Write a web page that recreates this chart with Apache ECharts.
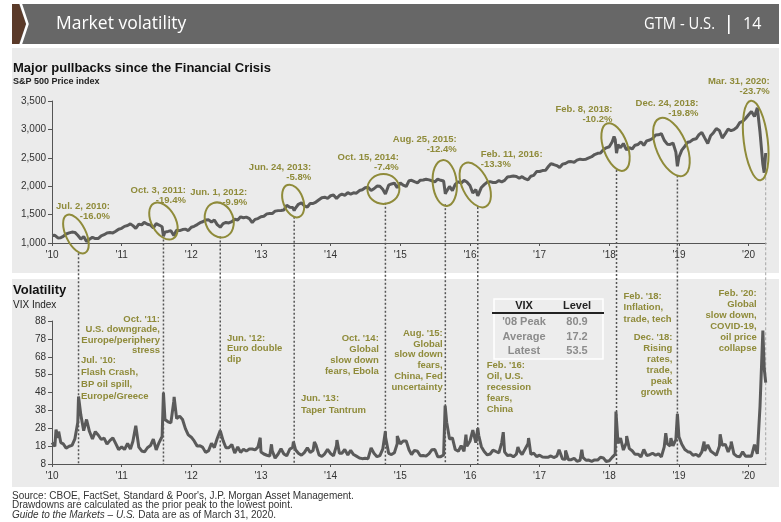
<!DOCTYPE html>
<html>
<head>
<meta charset="utf-8">
<title>Market volatility</title>
<script src="https://cdn.jsdelivr.net/npm/echarts@6/dist/echarts.min.js"></script>
<style>
  html, body { margin: 0; padding: 0; background: #ffffff; }
  #chart { width: 781px; height: 522px; }
</style>
</head>
<body>
<div id="chart"></div>
<script>
// ---- S&P 500 price index, sampled on the 1st and 16th of each month ----
const spx2010 = [1133,1136,1089,1094,1115,1159,1178,1192,1187,1136,1070,1114,1027,1065,1101,1079,1080,1125,1146,1176,1184,1178,1206,1242];
const spx2011 = [1258,1293,1307,1336,1306,1257,1332,1319,1363,1330,1314,1267,1340,1316,1287,1192,1204,1216,1131,1224,1218,1236,1244,1219];
const spx2012 = [1277,1294,1324,1358,1374,1404,1408,1370,1405,1324,1278,1342,1362,1353,1375,1418,1406,1461,1444,1455,1428,1359,1416,1430];
const spx2013 = [1462,1472,1513,1520,1518,1561,1570,1574,1582,1666,1631,1626,1614,1682,1706,1655,1633,1697,1695,1721,1762,1798,1806,1786];
const spx2014 = [1832,1845,1782,1838,1859,1841,1885,1862,1884,1877,1924,1937,1973,1981,1925,1955,2003,1998,1946,1862,2018,2039,2054,1972];
const spx2015 = [2058,2019,1995,2097,2104,2081,2059,2106,2108,2122,2111,2096,2077,2124,2104,2092,1914,1995,1923,2033,2079,2053,2102,2073];
const spx2016 = [2012,1880,1940,1865,1978,2027,2072,2080,2065,2066,2099,2077,2102,2162,2170,2178,2170,2139,2168,2133,2111,2176,2191,2258];
const spx2017 = [2258,2275,2279,2347,2396,2381,2363,2328,2388,2400,2430,2433,2423,2459,2476,2468,2476,2500,2519,2557,2579,2586,2642,2676];
const spx2018 = [2695,2777,2822,2732,2678,2752,2641,2677,2655,2722,2735,2780,2718,2798,2813,2840,2902,2905,2924,2809,2740,2736,2760,2600];
const spx2019 = [2510,2636,2704,2775,2784,2822,2834,2907,2946,2851,2752,2889,2942,3014,2980,2847,2926,3006,2977,2997,3038,3120,3141,3192];
const spx2020 = [3258,3317,3226,3380,2954,2386];
// prior peaks and pullback lows between the regular samples
const spxTurnDates  = ['2010-04-23','2010-07-02','2011-04-29','2011-08-08','2011-10-03','2012-04-02','2012-06-01','2013-05-21','2013-06-24','2014-09-18','2014-10-15','2015-05-21','2015-08-25','2015-11-03','2016-02-11','2018-01-26','2018-02-08','2018-09-20','2018-12-24','2020-02-19','2020-03-23','2020-03-31'];
const spxTurnValues = [1217.3,1022.6,1363.6,1119.5,1099.2,1419.0,1278.0,1669.2,1573.1,2011.4,1862.5,2130.8,1867.6,2109.8,1829.1,2872.9,2581.0,2930.8,2351.1,3386.2,2237.4,2584.6];

// ---- VIX index, same sampling ----
const vix2010 = [20.0,17.9,22.6,20.0,19.3,16.9,17.9,18.4,22.1,31.2,35.5,26.6,32.9,26.3,22.0,26.1,24.1,21.7,22.5,19.1,21.2,22.6,19.4,16.1];
const vix2011 = [17.6,16.1,19.5,16.4,20.7,29.4,17.4,15.3,14.8,17.1,18.3,21.9,15.9,20.0,23.4,32.9,31.6,31.0,43.0,33.4,34.8,32.9,27.8,24.3];
const vix2012 = [23.0,20.9,18.0,18.2,17.3,14.5,15.5,19.6,17.2,22.3,26.7,21.1,17.1,17.1,18.9,14.1,17.5,14.5,16.3,15.2,16.4,16.4,15.9,17.4];
const vix2013 = [14.7,13.6,12.9,12.5,15.4,11.3,13.6,16.5,13.6,12.6,16.3,17.2,16.0,14.0,12.9,14.4,17.0,14.5,15.5,18.7,13.1,12.2,13.7,16.2];
const vix2014 = [13.8,12.5,18.4,14.0,14.0,16.1,13.1,15.6,13.3,12.4,11.4,11.0,11.2,11.0,17.0,14.0,12.1,12.7,16.3,23.0,14.0,13.3,14.3,19.4];
const vix2015 = [19.2,20.9,20.9,15.8,13.3,15.6,15.1,12.6,12.7,12.4,13.8,16.0,16.1,12.1,12.1,13.0,31.4,22.0,22.6,16.1,15.1,18.2,15.1,17.9];
const vix2016 = [20.7,27.0,19.9,24.1,17.7,15.0,13.1,13.6,15.7,15.0,14.2,20.0,14.8,12.7,13.0,12.0,13.5,15.4,13.3,16.2,19.3,13.4,14.1,12.2];
const vix2017 = [12.9,11.9,11.8,11.8,12.5,11.6,12.4,15.0,10.8,10.7,10.4,10.4,11.2,9.5,10.1,11.7,10.1,10.2,9.5,10.3,10.2,11.8,11.4,9.4];
const vix2018 = [9.8,11.7,13.5,19.5,22.5,15.8,20.0,16.6,15.4,13.4,13.5,12.0,16.1,12.8,13.2,14.0,12.9,13.7,12.0,17.6,19.3,18.1,18.1,21.6];
const vix2019 = [23.2,19.0,16.1,14.9,14.6,12.9,13.4,12.2,14.8,15.3,18.7,15.3,14.1,12.9,17.9,18.5,19.0,14.7,18.6,13.7,12.3,12.1,14.9,12.3];
const vix2020 = [12.5,12.3,18.8,13.7,40.1,82.7];
const vixTurnDates  = ['2010-01-22','2010-02-05','2010-05-20','2011-08-08','2011-10-03','2012-12-28','2013-02-25','2013-06-20','2013-10-08','2014-02-03','2014-10-15','2014-12-16','2015-08-24','2015-12-11','2016-02-11','2016-06-24','2016-09-09','2016-11-04','2017-04-13','2017-05-17','2017-08-10','2018-02-05','2018-04-02','2018-10-24','2018-11-20','2018-12-24','2019-05-13','2019-08-05','2019-10-02','2020-03-23','2020-03-31'];
const vixTurnValues = [27.3,26.1,45.8,48.0,45.5,22.7,19.0,20.5,20.3,21.4,26.3,23.6,40.7,24.4,28.1,25.8,17.5,22.5,16.0,15.6,16.0,37.3,23.6,25.2,22.5,36.1,20.6,24.6,20.6,61.6,53.5];

// ---- axis ticks ----
const yearTicks = [2010,2011,2012,2013,2014,2015,2016,2017,2018,2019,2020];
const spxTicks = [1000,1500,2000,2500,3000,3500];
const vixTicks = [8,18,28,38,48,58,68,78,88];

// ---- pullbacks ----
const pullbackLabels = ['Jul. 2, 2010','Oct. 3, 2011','Jun. 1, 2012','Jun. 24, 2013','Oct. 15, 2014','Aug. 25, 2015','Feb. 11, 2016','Feb. 8, 2018','Dec. 24, 2018','Mar. 31, 2020'];
const drawdowns = [-16.0,-19.4,-9.9,-5.8,-7.4,-12.4,-13.3,-10.2,-19.8,-23.7];
const markerDates = ['2010-05-20','2011-08-08','2012-06-01','2013-06-24','2014-10-15','2015-08-25','2016-02-11','2018-02-08','2018-12-24','2020-03-31'];

// ---- VIX episode notes ----
const vixNotes = [
  "Jul. '10:\nFlash Crash,\nBP oil spill,\nEurope/Greece",
  "Oct. '11:\nU.S. downgrade,\nEurope/periphery\nstress",
  "Jun. '12:\nEuro double\ndip",
  "Jun. '13:\nTaper Tantrum",
  "Oct. '14:\nGlobal\nslow down\nfears, Ebola",
  "Aug. '15:\nGlobal\nslow down\nfears,\nChina, Fed\nuncertainty",
  "Feb. '16:\nOil, U.S.\nrecession\nfears,\nChina",
  "Feb. '18:\nInflation,\ntrade, tech",
  "Dec. '18:\nRising\nrates,\ntrade,\npeak\ngrowth",
  "Feb. '20:\nGlobal\nslow down,\nCOVID-19,\noil price\ncollapse"
];

// ---- VIX summary table ----
const vixTableRows = ["'08 Peak", 'Average', 'Latest'];
const vixTableLevels = [80.9, 17.2, 53.5];

// ---- layout of the annotations (pixels relative to each marker) ----
// ring: dx from marker, centre level on S&P axis, radii, rotation; label: dx, dy from ring centre
const ringLayout = [
  { dx: -2.6, level: 1158, rx: 10, ry: 21, rot: 0.45, lx: 31.4, ly: -28, align: 'right' },
  { dx: 0,    level: 1387, rx: 12, ry: 20, rot: 0.5,  lx: 22.5, ly: -31, align: 'right' },
  { dx: -1,   level: 1405, rx: 14, ry: 18, rot: 0.35, lx: 27,   ly: -28, align: 'right' },
  { dx: -1,   level: 1739, rx: 10, ry: 17, rot: 0.35, lx: 17,   ly: -34, align: 'right' },
  { dx: -2,   level: 1951, rx: 16, ry: 15, rot: 0,    lx: 13.4, ly: -32, align: 'right' },
  { dx: -0.6, level: 2056, rx: 12, ry: 23, rot: 0.1,  lx: 11.4, ly: -44, align: 'right' },
  { dx: -2.5, level: 2021, rx: 13, ry: 24, rot: 0.45, lx: 3,    ly: -31, align: 'left'  },
  { dx: -1,   level: 2690, rx: 12, ry: 25, rot: 0.35, lx: -4,   ly: -38, align: 'right' },
  { dx: -6,   level: 2690, rx: 15, ry: 31, rot: 0.4,  lx: 21,   ly: -44, align: 'right' },
  { dx: -10,  level: 2805, rx: 12, ry: 40, rot: 0.12, lx: 4,    ly: -59.5, align: 'right' }
];
// note: dx from marker, first line level on VIX axis, alignment, line height
const noteLayout = [
  { dx: 2.5,  level: 66.1,  align: 'left',  lh: 12 },
  { dx: -3.5, level: 89.0,  align: 'right', lh: 10.5 },
  { dx: 6.7,  level: 78.4,  align: 'left',  lh: 10.5 },
  { dx: 6.7,  level: 44.9,  align: 'left',  lh: 12 },
  { dx: -6.6, level: 78.4,  align: 'right', lh: 11 },
  { dx: -2.6, level: 81.2,  align: 'right', lh: 10.8 },
  { dx: 9,    level: 63.3,  align: 'left',  lh: 11 },
  { dx: 7,    level: 101.9, align: 'left',  lh: 11.5 },
  { dx: -5,   level: 78.9,  align: 'right', lh: 11 },
  { dx: -9,   level: 103.5, align: 'right', lh: 11 }
];

const FONT = "'Liberation Sans', Arial, sans-serif";
const HEAD = "'Open Sans', sans-serif";
const OLIVE = '#8f8b3a';
const LINE = '#5a5a5a';

// fractional year from an ISO date
function toYear(s) {
  const [y, m, d] = s.split('-').map(Number);
  const start = Date.UTC(y, 0, 1), end = Date.UTC(y + 1, 0, 1);
  return y + (Date.UTC(y, m - 1, d) - start) / (end - start);
}
function sampleDate(year, i) {
  const m = Math.floor(i / 2) + 1;
  return year + '-' + String(m).padStart(2, '0') + '-' + (i % 2 === 0 ? '01' : '16');
}
function buildSeries(yearArrays, turnDates, turnValues) {
  const pts = [];
  yearArrays.forEach((arr, k) => arr.forEach((v, i) => pts.push([toYear(sampleDate(2010 + k, i)), v])));
  turnDates.forEach((d, i) => pts.push([toYear(d), turnValues[i]]));
  pts.sort((a, b) => a[0] - b[0]);
  return pts;
}

const spxData = buildSeries([spx2010,spx2011,spx2012,spx2013,spx2014,spx2015,spx2016,spx2017,spx2018,spx2019,spx2020], spxTurnDates, spxTurnValues);
const vixData = buildSeries([vix2010,vix2011,vix2012,vix2013,vix2014,vix2015,vix2016,vix2017,vix2018,vix2019,vix2020], vixTurnDates, vixTurnValues);

const chart = echarts.init(document.getElementById('chart'), null, { renderer: 'canvas' });

function xAxisFor(g) {
  return {
    type: 'value', gridIndex: g, min: 2010, max: 2020.25, interval: 1,
    axisLine: { show: true, lineStyle: { color: '#555', width: 1 } },
    axisTick: { show: true, length: 3, customValues: yearTicks, lineStyle: { color: '#555' } },
    axisLabel: {
      customValues: yearTicks, margin: 7, color: '#333', fontSize: 10, fontFamily: FONT,
      formatter: v => "'" + String(Math.round(v)).slice(2)
    },
    splitLine: { show: false }
  };
}
function yAxisFor(g, min, max, interval, ticks, fmt) {
  return {
    type: 'value', gridIndex: g, min, max, interval,
    axisLine: { show: true, lineStyle: { color: '#555', width: 1 } },
    axisTick: { show: true, length: 4, customValues: ticks, lineStyle: { color: '#555' } },
    axisLabel: { customValues: ticks, margin: 6, color: '#333', fontSize: 10, fontFamily: FONT, formatter: fmt },
    splitLine: { show: false }
  };
}

chart.setOption({
  animation: false,
  grid: [
    { left: 52, right: 15, top: 101, height: 142 },
    { left: 52, right: 15, top: 321, height: 143 }
  ],
  xAxis: [xAxisFor(0), xAxisFor(1)],
  yAxis: [
    yAxisFor(0, 1000, 3500, 500, spxTicks, v => v.toLocaleString('en-US')),
    yAxisFor(1, 8, 88, 10, vixTicks, v => String(v))
  ],
  series: [
    { name: 'S&P 500', type: 'line', xAxisIndex: 0, yAxisIndex: 0, data: spxData, showSymbol: false, symbol: 'none',
      lineStyle: { color: LINE, width: 3 }, silent: true, z: 3 },
    { name: 'VIX', type: 'line', xAxisIndex: 1, yAxisIndex: 1, data: vixData, showSymbol: false, symbol: 'none',
      lineStyle: { color: LINE, width: 3 }, silent: true, z: 3 }
  ]
});

// ---- decorations: header, panels, rings, markers, notes, table, footer ----
const g = [];
const txt = (x, y, text, font, fill, align, extra) => Object.assign({
  type: 'text', x, y, silent: true,
  style: { text, font, fill, align: align || 'left', verticalAlign: 'middle' }
}, extra || {});

// panels
g.push({ type: 'rect', z: -10, silent: true, shape: { x: 12, y: 48, width: 767, height: 225 }, style: { fill: '#ebebeb' } });
g.push({ type: 'rect', z: -10, silent: true, shape: { x: 12, y: 279, width: 767, height: 208 }, style: { fill: '#ebebeb' } });

// header bar
g.push({ type: 'rect', silent: true, shape: { x: 12, y: 4, width: 767, height: 40 }, style: { fill: '#676767' } });
g.push({ type: 'polygon', silent: true, shape: { points: [[12, 4], [19, 4], [26, 24], [19, 44], [12, 44]] }, style: { fill: '#5b3a29' } });
g.push({ type: 'polyline', silent: true, shape: { points: [[20.5, 3], [27.5, 24], [20.5, 45]] }, style: { stroke: '#ffffff', lineWidth: 2.5, fill: null } });
g.push(txt(56, 24, 'Market volatility', '17.5px ' + HEAD, '#ffffff', 'left'));
g.push(txt(715, 24, 'GTM - U.S.', '16px ' + HEAD, '#ffffff', 'right', { scaleX: 0.92 }));
g.push({ type: 'rect', silent: true, shape: { x: 728, y: 15, width: 1.6, height: 19 }, style: { fill: '#ffffff' } });
g.push(txt(743, 24, '14', '16px ' + HEAD, '#ffffff', 'left'));

// panel titles
g.push(txt(13, 68, 'Major pullbacks since the Financial Crisis', 'bold 13px ' + FONT, '#111'));
g.push(txt(13, 82, 'S&P 500 Price index', 'bold 9px ' + FONT, '#222'));
g.push(txt(13, 290, 'Volatility', 'bold 13px ' + FONT, '#111'));
g.push(txt(13, 305, 'VIX Index', '10px ' + FONT, '#222'));

// rings, pullback labels and dashed markers
markerDates.forEach((d, i) => {
  const L = ringLayout[i];
  const mx = chart.convertToPixel({ gridIndex: 0 }, [toYear(d), 1000])[0];
  const cy = chart.convertToPixel({ gridIndex: 0 }, [2010, L.level])[1];
  const cx = mx + L.dx;
  const bottom = chart.convertToPixel({ gridIndex: 1 }, [toYear(d), 8])[1];
  const last = i === markerDates.length - 1;
  g.push({ type: 'line', silent: true, z: 1,
    shape: { x1: mx, y1: cy + L.ry * 0.92, x2: mx, y2: bottom },
    style: { stroke: last ? '#a5a5a5' : '#555555', lineWidth: last ? 1 : 1.5, lineDash: last ? [3, 2] : [2, 2] } });
  g.push({ type: 'ellipse', silent: true, z: 10, x: cx, y: cy, rotation: L.rot,
    shape: { cx: 0, cy: 0, rx: L.rx, ry: L.ry },
    style: { stroke: OLIVE, lineWidth: 2, fill: null } });
  g.push({ type: 'text', silent: true, z: 10, x: mx + L.lx, y: cy + L.ly - 5.25,
    style: { text: pullbackLabels[i] + ':\n' + drawdowns[i].toFixed(1) + '%', font: 'bold 9.5px ' + FONT,
      fill: OLIVE, align: L.align, verticalAlign: 'top', lineHeight: 10.5 } });

  const N = noteLayout[i];
  const ny = chart.convertToPixel({ gridIndex: 1 }, [2010, N.level])[1];
  g.push({ type: 'text', silent: true, z: 10, x: mx + N.dx, y: ny - N.lh / 2,
    style: { text: vixNotes[i], font: 'bold 9.5px ' + FONT, fill: OLIVE, align: N.align, verticalAlign: 'top', lineHeight: N.lh } });
});

// VIX summary table
g.push({ type: 'rect', silent: true, z: 5, shape: { x: 494, y: 299, width: 109, height: 60 }, style: { fill: '#ededed', stroke: '#ffffff', lineWidth: 1.5 } });
g.push(txt(524, 306, 'VIX', 'bold 11px ' + FONT, '#222', 'center', { z: 6 }));
g.push(txt(577, 306, 'Level', 'bold 11px ' + FONT, '#222', 'center', { z: 6 }));
g.push({ type: 'rect', silent: true, z: 6, shape: { x: 492, y: 312, width: 112, height: 2 }, style: { fill: '#222' } });
const rowY = [322, 337, 351];
vixTableRows.forEach((r, i) => {
  g.push(txt(524, rowY[i], r, 'bold 11px ' + FONT, '#8c8c8c', 'center', { z: 6 }));
  g.push(txt(577, rowY[i], vixTableLevels[i].toFixed(1), 'bold 11px ' + FONT, '#8c8c8c', 'center', { z: 6 }));
});

// footer
g.push(txt(12, 496, "Source: CBOE, FactSet, Standard & Poor's, J.P. Morgan Asset Management.", '10px ' + FONT, '#333'));
g.push(txt(12, 505.5, 'Drawdowns are calculated as the prior peak to the lowest point.', '10px ' + FONT, '#333'));
g.push({ type: 'text', silent: true, x: 12, y: 515,
  style: { text: '{i|Guide to the Markets – U.S.} Data are as of March 31, 2020.', font: '10px ' + FONT, fill: '#333',
    verticalAlign: 'middle', rich: { i: { fontStyle: 'italic', fontSize: 10, fontFamily: FONT, fill: '#333' } } } });

chart.setOption({ graphic: { elements: g } });
</script>
</body>
</html>
